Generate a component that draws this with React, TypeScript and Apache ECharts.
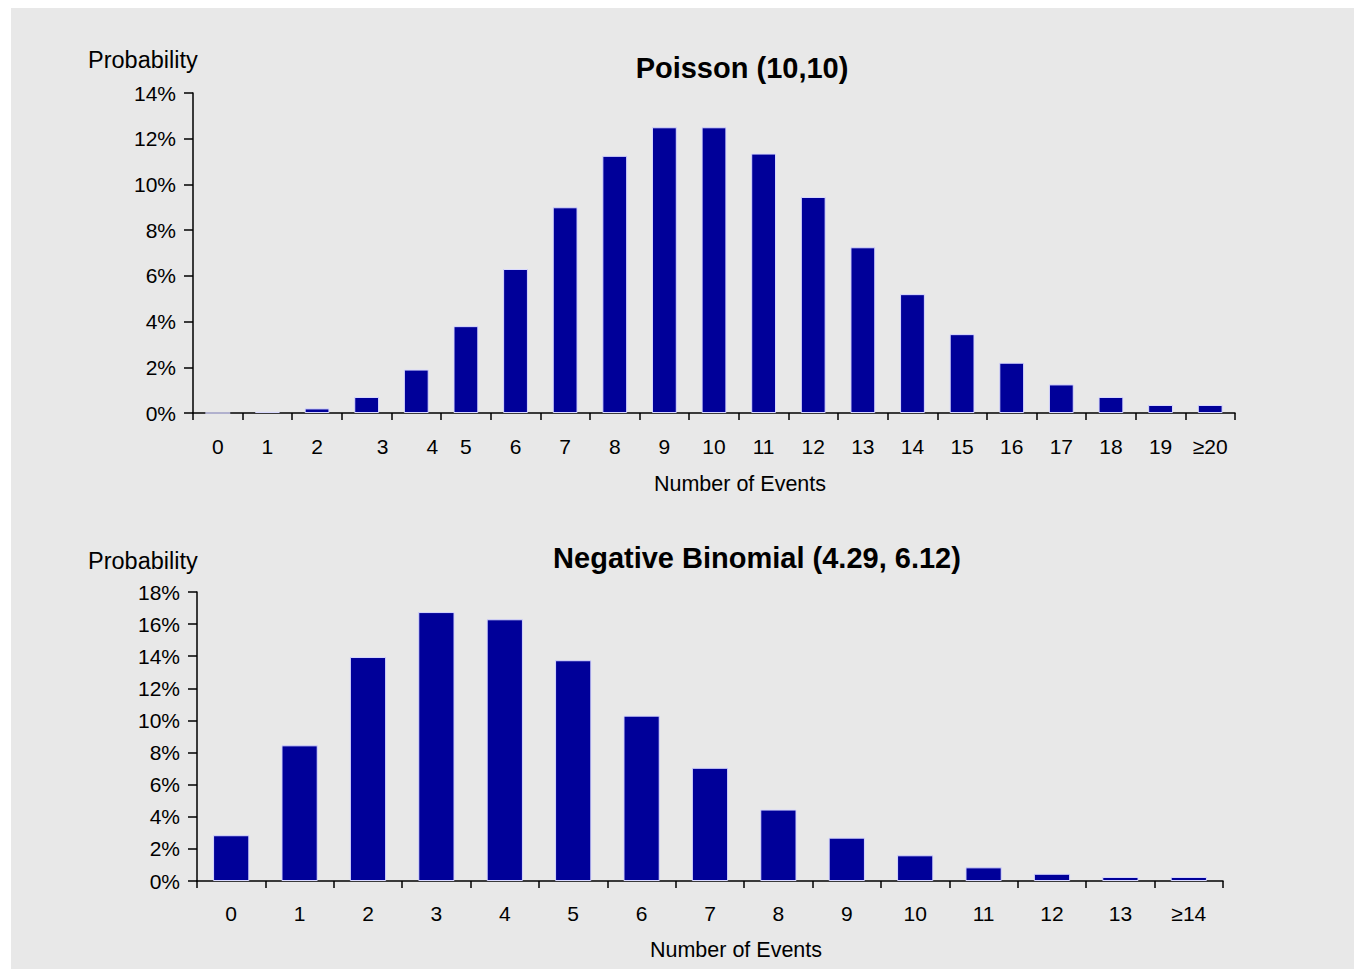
import React, { useEffect, useRef } from "react";
import * as echarts from "echarts";

const poissonCategories = ["0","1","2","3","4","5","6","7","8","9","10","11","12","13","14","15","16","17","18","19","≥20"];
const poissonValues = [0, 0.05, 0.2, 0.7, 1.9, 3.8, 6.3, 9.0, 11.25, 12.5, 12.5, 11.35, 9.45, 7.25, 5.2, 3.45, 2.2, 1.25, 0.7, 0.35, 0.35];
const poissonTicks = { min: 0, max: 14, interval: 2 };

const negBinCategories = ["0","1","2","3","4","5","6","7","8","9","10","11","12","13","≥14"];
const negBinValues = [2.85, 8.45, 13.95, 16.75, 16.3, 13.75, 10.3, 7.05, 4.45, 2.7, 1.6, 0.85, 0.45, 0.25, 0.25];
const negBinTicks = { min: 0, max: 18, interval: 2 };

const FONT = "Liberation Sans, Arial, sans-serif";
const BAR = "#000099";

export default function App() {
  const ref = useRef<HTMLDivElement>(null);
  useEffect(() => {
    if (!ref.current) return;
    const chart = echarts.init(ref.current, undefined, { renderer: "svg" });
    const axisLine = { show: true, lineStyle: { color: "#000", width: 1.5 } };
    const yAxisCommon = (t: any) => ({
      type: "value",
      min: t.min,
      max: t.max,
      interval: t.interval,
      axisLine,
      axisTick: { show: true, length: 9, lineStyle: { color: "#000", width: 1.5 } },
      splitLine: { show: false },
      axisLabel: { formatter: (v: number) => `${v}%`, fontSize: 21, color: "#000", fontFamily: FONT, margin: 17 },
    });
    const txt = (text: string, x: number, y: number, size: number, bold = false, align = "center") => ({
      type: "text", x, y,
      style: { text, font: `${bold ? "bold " : ""}${size}px ${FONT}`, fill: "#000", align, verticalAlign: "middle" },
    });
    chart.setOption({
      animation: false,
      backgroundColor: "#ffffff",
      textStyle: { fontFamily: FONT },
      graphic: [
        { type: "rect", shape: { x: 11, y: 8, width: 1343, height: 961 }, style: { fill: "#E8E8E8" }, z: -10 },
        txt("Probability", 88, 60, 23.5, false, "left"),
        txt("Probability", 88, 561, 23.5, false, "left"),
        txt("Poisson (10,10)", 742, 68, 29, true),
        txt("Negative Binomial (4.29, 6.12)", 757, 558, 29, true),
        txt("Number of Events", 740, 484, 21.5),
        txt("Number of Events", 736, 950, 21.5),
      ],
      grid: [
        { left: 193, top: 93, width: 1042, height: 320 },
        { left: 197, top: 592, width: 1026, height: 289 },
      ],
      xAxis: [
        {
          type: "category", gridIndex: 0, data: poissonCategories,
          axisLine, axisTick: { show: true, length: 7, lineStyle: { color: "#000", width: 1.5 } },
          axisLabel: {
            fontSize: 21, color: "#000", fontFamily: FONT, margin: 23, interval: 0,
            formatter: (v: string) => (v === "3" || v === "4" ? `{s|${v}}` : v),
            rich: { s: { fontSize: 21, color: "#000", fontFamily: FONT, padding: [0, 0, 0, 32] } },
          },
        },
        {
          type: "category", gridIndex: 1, data: negBinCategories,
          axisLine, axisTick: { show: true, length: 7, lineStyle: { color: "#000", width: 1.5 } },
          axisLabel: { fontSize: 21, color: "#000", fontFamily: FONT, margin: 22, interval: 0 },
        },
      ],
      yAxis: [
        { ...yAxisCommon(poissonTicks), gridIndex: 0 },
        { ...yAxisCommon(negBinTicks), gridIndex: 1 },
      ],
      series: [
        {
          type: "bar", xAxisIndex: 0, yAxisIndex: 0, data: poissonValues, barWidth: "50%",
          itemStyle: { color: BAR, borderColor: "#d8d8ff", borderWidth: 1 },
        },
        {
          type: "bar", xAxisIndex: 1, yAxisIndex: 1, data: negBinValues, barWidth: "53%",
          itemStyle: { color: BAR, borderColor: "#d8d8ff", borderWidth: 1 },
        },
      ],
    });
    return () => chart.dispose();
  }, []);
  return <div ref={ref} style={{ position: "fixed", left: 0, top: 0, width: 1356, height: 970 }} />;
}
